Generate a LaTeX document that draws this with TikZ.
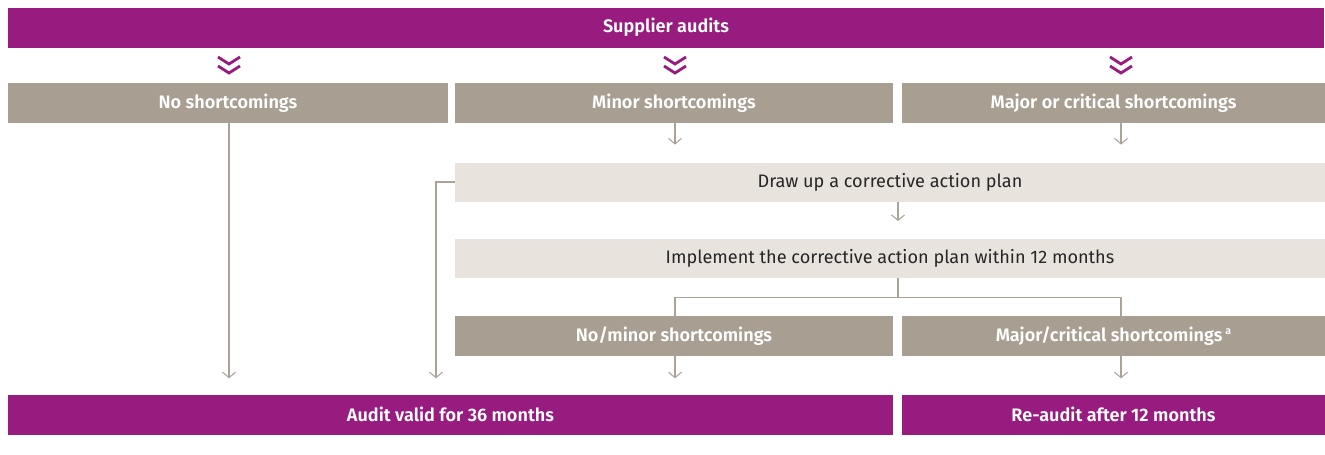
\documentclass[tikz,border=0pt]{standalone}
\usepackage{fontspec}
\setmainfont{Fira Sans}[BoldFont={Fira Sans SemiBold}]
\usepackage{xcolor}
\usetikzlibrary{arrows.meta, positioning, calc}

\definecolor{auditpurple}{HTML}{981B80}
\definecolor{audittaupe}{HTML}{A89E91}
\definecolor{auditlight}{HTML}{E8E4DD}
\definecolor{auditline}{HTML}{ABA397}

\begin{document}
\begin{tikzpicture}[x=0.02cm, y=-0.02cm,
    >={Straight Barb[length=1.1mm, width=2.6mm]},
    box/.style={minimum height=0.8cm, inner sep=0pt, font=\fontsize{10.3}{12}\selectfont},
    purplebox/.style={box, fill=auditpurple, text=white, font=\fontsize{10.3}{12}\selectfont\bfseries},
    greybox/.style={box, fill=audittaupe, text=white, font=\fontsize{10.3}{12}\selectfont\bfseries},
    lightbox/.style={box, fill=auditlight, text=black!85},
    conn/.style={draw=auditline, line width=0.6pt},
    chevron/.style={draw=auditpurple, line width=1.6pt}]
    \useasboundingbox (0,0) rectangle (1325,454);
    % columns
    \coordinate (c1) at (229,0);
    \coordinate (c2) at (675,0);
    \coordinate (c3) at (1121,0);
    \coordinate (c4) at (436,0);
    % boxes
    \node[purplebox, minimum width=26.34cm] (audits) at (666,27.5) {Supplier audits};
    \node[greybox, minimum width=8.8cm] (none) at (228,103) {No shortcomings};
    \node[greybox, minimum width=8.76cm] (minor) at (674,103) {Minor shortcomings};
    \node[greybox, minimum width=8.46cm] (major) at (1113.5,103) {Major or critical shortcomings};
    \node[lightbox, minimum width=17.4cm, minimum height=0.78cm] (plan) at (890,182) {Draw up a corrective action plan};
    \node[lightbox, minimum width=17.4cm, minimum height=0.78cm] (implement) at (890,258.5) {Implement the corrective action plan within 12 months};
    \node[greybox, minimum width=8.76cm] (nominor) at (674,336) {No/minor shortcomings};
    \node[greybox, minimum width=8.46cm] (majcrit) at (1113.5,336) {Major/critical shortcomings\,\raisebox{0.7ex}{\fontsize{6}{6}\selectfont a}};
    \node[purplebox, minimum width=17.7cm] (valid) at (450.5,414.5) {Audit valid for 36 months};
    \node[purplebox, minimum width=8.46cm] (reaudit) at (1113.5,414.5) {Re-audit after 12 months};
    % chevrons
    \foreach \cx in {229,675,1121}{
        \draw[chevron] (\cx-11,57) -- (\cx,64) -- (\cx+11,57);
        \draw[chevron] (\cx-11,66) -- (\cx,73) -- (\cx+11,66);
    }
    % connectors
    \draw[conn,->,shorten >=9pt] (none.south -| c1) -- (valid.north -| c1);
    \draw[conn,->,shorten >=10pt] (minor.south -| c2) -- (plan.north -| c2);
    \draw[conn,->,shorten >=10pt] (major.south -| c3) -- (plan.north -| c3);
    \draw[conn,->,shorten >=9pt] (plan.west) -| (valid.north -| c4);
    \draw[conn,->,shorten >=10pt] ($(plan.south)+(8,0)$) -- ($(implement.north)+(8,0)$);
    \draw[conn] ($(implement.south)+(8,0)$) -- ++(0,19) coordinate (split);
    \draw[conn] (nominor.north -| c2) |- (split) -| (majcrit.north -| c3);
    \draw[conn,->,shorten >=9pt] (nominor.south -| c2) -- (valid.north -| c2);
    \draw[conn,->,shorten >=9pt] (majcrit.south -| c3) -- (reaudit.north -| c3);
\end{tikzpicture}
\end{document}
